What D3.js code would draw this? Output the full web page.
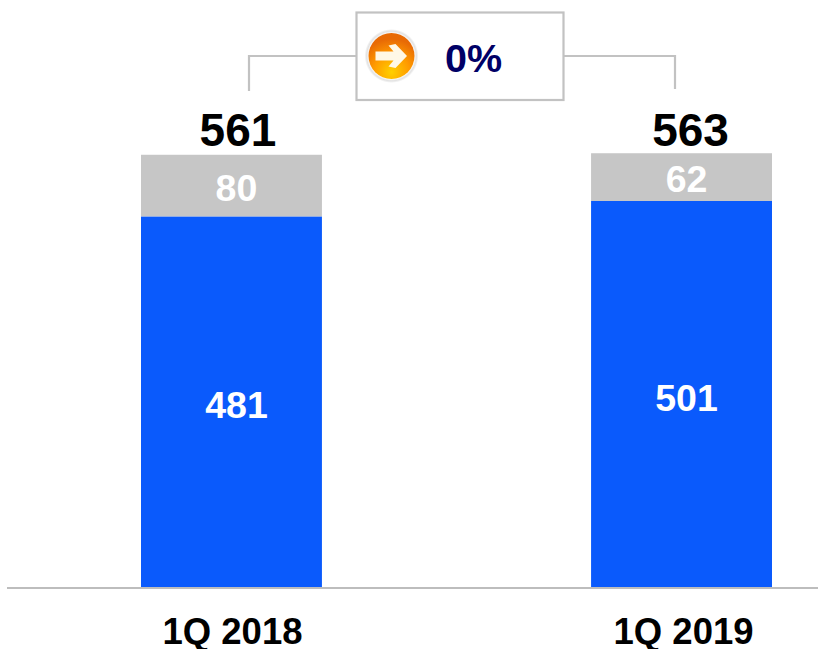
<!DOCTYPE html>
<html>
<head>
<meta charset="utf-8">
<script src="https://cdn.jsdelivr.net/npm/d3@7/dist/d3.min.js"></script>
<style>
html,body{margin:0;padding:0;background:#fff}
svg{display:block}
text{font-family:"Liberation Sans",Arial,sans-serif;font-weight:700}
</style>
</head>
<body>
<script>
const categories = ["1Q 2018", "1Q 2019"];
const blueValues = [481, 501];
const grayValues = [80, 62];
const totals = [561, 563];
const changeLabel = "0%";

const W = 818, H = 649;
const svg = d3.select("body").append("svg").attr("width", W).attr("height", H);

const defs = svg.append("defs");
const rg = defs.append("radialGradient").attr("id","orb").attr("cx","50%").attr("cy","85%").attr("r","72%");
rg.append("stop").attr("offset","0%").attr("stop-color","#ffd000");
rg.append("stop").attr("offset","55%").attr("stop-color","#ff9a00");
rg.append("stop").attr("offset","100%").attr("stop-color","#e86a05");
const halo = defs.append("radialGradient").attr("id","halo");
halo.append("stop").attr("offset","84%").attr("stop-color","#ffffff");
halo.append("stop").attr("offset","92%").attr("stop-color","#e2e2e2");
halo.append("stop").attr("offset","100%").attr("stop-color","#ffffff");

const baseY = 587;
const y = d3.scaleLinear().domain([0, 562]).range([baseY, 154]);
const x = d3.scaleBand().domain(categories).range([141, 772]).paddingInner(0.598).paddingOuter(0);
const bw = x.bandwidth();

// Bars
categories.forEach((c, i) => {
  svg.append("rect").attr("x", x(c)).attr("width", bw)
    .attr("y", y(blueValues[i])).attr("height", baseY - y(blueValues[i]))
    .attr("fill", "#0a5afc");
  svg.append("rect").attr("x", x(c)).attr("width", bw)
    .attr("y", y(blueValues[i] + grayValues[i])).attr("height", y(blueValues[i]) - y(blueValues[i] + grayValues[i]))
    .attr("fill", "#c6c6c6");
});

// Baseline and category labels
const axis = svg.append("g").attr("transform", `translate(0,${baseY + 1})`)
  .call(d3.axisBottom(x).tickSize(0).tickPadding(30));
axis.select(".domain").remove();
svg.append("line").attr("x1", 7).attr("x2", W).attr("y1", baseY + 1).attr("y2", baseY + 1)
  .attr("stroke", "#bdbdbd").attr("stroke-width", 2);
axis.selectAll("text")
  .attr("font-family", '"Liberation Sans",Arial,sans-serif')
  .attr("font-size", 36.5).attr("font-weight", 700).attr("fill", "#000")
  .attr("dx", (d, i) => i === 0 ? 1 : 2);

// Value labels
const cx = c => x(c) + bw / 2;
categories.forEach((c, i) => {
  const off = 5;
  svg.append("text").attr("x", cx(c) + (i === 0 ? 6.5 : 9)).attr("y", 146)
    .attr("text-anchor","middle").attr("font-size",46).attr("fill","#000").text(totals[i]);
  svg.append("text").attr("x", cx(c) + off).attr("y", (y(blueValues[i]) + y(blueValues[i]+grayValues[i]))/2 + (i === 0 ? 15.5 : 14.5))
    .attr("text-anchor","middle").attr("font-size",37.5).attr("fill","#fff").text(grayValues[i]);
  svg.append("text").attr("x", cx(c) + off).attr("y", (y(blueValues[i]) + baseY)/2 + (i === 0 ? 16 : 17))
    .attr("text-anchor","middle").attr("font-size",37.5).attr("fill","#fff").text(blueValues[i]);
});

// Bracket
const grayLine = "#c2c2c2";
svg.append("path").attr("fill","none").attr("stroke",grayLine).attr("stroke-width",2.2)
  .attr("d", d3.line()([[249,91],[249,56],[356,56]]));
svg.append("path").attr("fill","none").attr("stroke",grayLine).attr("stroke-width",2.2)
  .attr("d", d3.line()([[563,56],[675,56],[675,89]]));
svg.append("rect").attr("x",356.5).attr("y",12.5).attr("width",207).attr("height",87.5)
  .attr("fill","#fff").attr("stroke",grayLine).attr("stroke-width",2.2);

// Icon
const icon = svg.append("g").attr("transform","translate(391.5,56)");
icon.append("circle").attr("r",27).attr("fill","url(#halo)");
icon.append("circle").attr("r",23).attr("fill","url(#orb)");
icon.append("path").attr("fill","#fff8e6")
  .attr("d","M-16,-4.5H2L-3,-10.5L4,-12L15.5,0L4,12L-3,10.5L2,4.5H-16Z");

svg.append("text").attr("x",473.5).attr("y",72).attr("text-anchor","middle")
  .attr("font-size",39.5).attr("fill","#000066").text(changeLabel);
</script>
</body>
</html>
